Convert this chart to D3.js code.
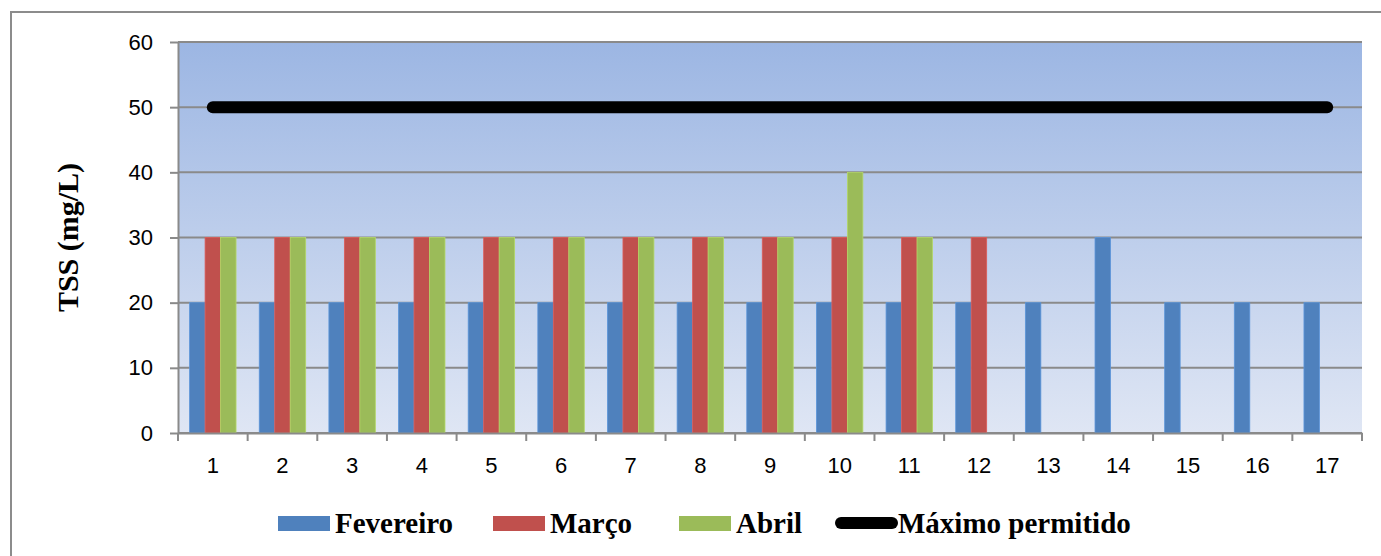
<!DOCTYPE html>
<html>
<head>
<meta charset="utf-8">
<script src="https://cdn.jsdelivr.net/npm/d3@7"></script>
<style>
  body { margin: 0; background: #fff; }
  .axis text { font-family: "Liberation Sans", Arial, sans-serif; font-size: 22px; fill: #000; }
  .legend text { font-family: "Liberation Serif", "Times New Roman", serif; font-weight: bold; font-size: 29px; }
</style>
</head>
<body>
<script>
// data
var categories = ["1","2","3","4","5","6","7","8","9","10","11","12","13","14","15","16","17"];
var fevereiro = [20,20,20,20,20,20,20,20,20,20,20,20,20,30,20,20,20];
var marco     = [30,30,30,30,30,30,30,30,30,30,30,30,null,null,null,null,null];
var abril     = [30,30,30,30,30,30,30,30,30,40,30,null,null,null,null,null,null];
var maximo    = [50,50,50,50,50,50,50,50,50,50,50,50,50,50,50,50,50];
var yTicks = [0,10,20,30,40,50,60];

var seriesNames = ["Fevereiro", "Março", "Abril"];
var seriesColors = ["#4f81bd", "#c0504d", "#9bbb59"];
var seriesData = [fevereiro, marco, abril];

var W = 1381, H = 556;
var margin = {top: 42, right: 19, bottom: 123, left: 178},
    width = W - margin.left - margin.right,
    height = H - margin.top - margin.bottom;

var root = d3.select("body").append("svg")
    .attr("width", W)
    .attr("height", H);

// outer chart border (only top/left visible in the original)
root.append("rect")
    .attr("x", 11).attr("y", 12)
    .attr("width", W + 10).attr("height", H + 10)
    .attr("fill", "none")
    .attr("stroke", "#8c8c8c")
    .attr("stroke-width", 2);

var defs = root.append("defs");
var grad = defs.append("linearGradient")
    .attr("id", "bg").attr("x1", 0).attr("y1", 0).attr("x2", 0).attr("y2", 1);
grad.append("stop").attr("offset", "0%").attr("stop-color", "#9cb6e3");
grad.append("stop").attr("offset", "100%").attr("stop-color", "#dfe6f4");

var svg = root.append("g")
    .attr("transform", "translate(" + margin.left + "," + margin.top + ")");

var xScale = d3.scaleBand().domain(categories).range([0, width]);
var yScale = d3.scaleLinear().domain([0, 60]).range([height, 0]);

// plot area background
svg.append("rect")
    .attr("width", width).attr("height", height)
    .attr("fill", "url(#bg)");

// horizontal gridlines
svg.append("g")
    .selectAll("line")
    .data(yTicks)
    .enter().append("line")
    .attr("x1", 0).attr("x2", width)
    .attr("y1", function(d) { return yScale(d); })
    .attr("y2", function(d) { return yScale(d); })
    .attr("stroke", "#8a8a8a")
    .attr("stroke-width", 2);

// bars: gap width 150% -> bar = band / 4.5
var barW = xScale.bandwidth() / 4.5;
var gap = xScale.bandwidth() * 0.75 / 4.5;

for (let s = 0; s < seriesData.length; s++) {
    svg.append("g")
        .attr("class", "series")
        .selectAll("rect")
        .data(seriesData[s].map(function(v, i) { return {cat: categories[i], v: v}; })
              .filter(function(d) { return d.v !== null; }))
        .enter().append("rect")
        .attr("x", function(d) { return xScale(d.cat) + gap + s * barW; })
        .attr("y", function(d) { return yScale(d.v); })
        .attr("width", barW)
        .attr("height", function(d) { return height - yScale(d.v); })
        .attr("fill", seriesColors[s])
        .attr("stroke", d3.color(seriesColors[s]).brighter(0.4))
        .attr("stroke-width", 0.8);
}

// Máximo permitido line
var lineGen = d3.line()
    .x(function(d, i) { return xScale(categories[i]) + xScale.bandwidth() / 2; })
    .y(function(d) { return yScale(d); });

svg.append("path")
    .attr("d", lineGen(maximo))
    .attr("fill", "none")
    .attr("stroke", "#000")
    .attr("stroke-width", 12)
    .attr("stroke-linecap", "round");

// y axis
var yAxis = d3.axisLeft(yScale).tickValues(yTicks).tickSize(8).tickPadding(17).tickSizeOuter(0);
var gy = svg.append("g").attr("class", "axis").call(yAxis);
gy.select(".domain").attr("stroke", "#8a8a8a").attr("stroke-width", 2);
gy.selectAll(".tick line").attr("stroke", "#8a8a8a").attr("stroke-width", 2);

// x axis: ticks at band boundaries
var xAxis = d3.axisBottom(xScale).tickSize(0).tickPadding(24).tickSizeOuter(0);
var gx = svg.append("g").attr("class", "axis")
    .attr("transform", "translate(0," + height + ")")
    .call(xAxis);
gx.select(".domain").attr("stroke", "#8a8a8a").attr("stroke-width", 2);
gx.selectAll(".tick text").attr("dy", "0.71em");
var bounds = categories.map(function(c) { return xScale(c); }).concat([width]);
gx.selectAll(".bound")
    .data(bounds)
    .enter().append("line")
    .attr("class", "bound")
    .attr("x1", function(d) { return d; }).attr("x2", function(d) { return d; })
    .attr("y1", 0).attr("y2", 8)
    .attr("stroke", "#8a8a8a")
    .attr("stroke-width", 2);

// y axis title
root.append("text")
    .attr("transform", "translate(78," + (margin.top + height / 2) + ") rotate(-90)")
    .attr("text-anchor", "middle")
    .attr("font-family", "'Liberation Serif', 'Times New Roman', serif")
    .attr("font-weight", "bold")
    .attr("font-size", "30px")
    .text("TSS (mg/L)");

// legend
var legend = root.append("g").attr("class", "legend");
var legendX = [278, 493, 679];
for (let s = 0; s < seriesNames.length; s++) {
    legend.append("rect")
        .attr("x", legendX[s]).attr("y", 516)
        .attr("width", 52).attr("height", 15)
        .attr("fill", seriesColors[s]);
    legend.append("text")
        .attr("x", legendX[s] + 57).attr("y", 533)
        .text(seriesNames[s]);
}
legend.append("line")
    .attr("x1", 841).attr("x2", 892)
    .attr("y1", 523).attr("y2", 523)
    .attr("stroke", "#000")
    .attr("stroke-width", 12)
    .attr("stroke-linecap", "round");
legend.append("text")
    .attr("x", 898).attr("y", 533)
    .text("Máximo permitido");
</script>
</body>
</html>
